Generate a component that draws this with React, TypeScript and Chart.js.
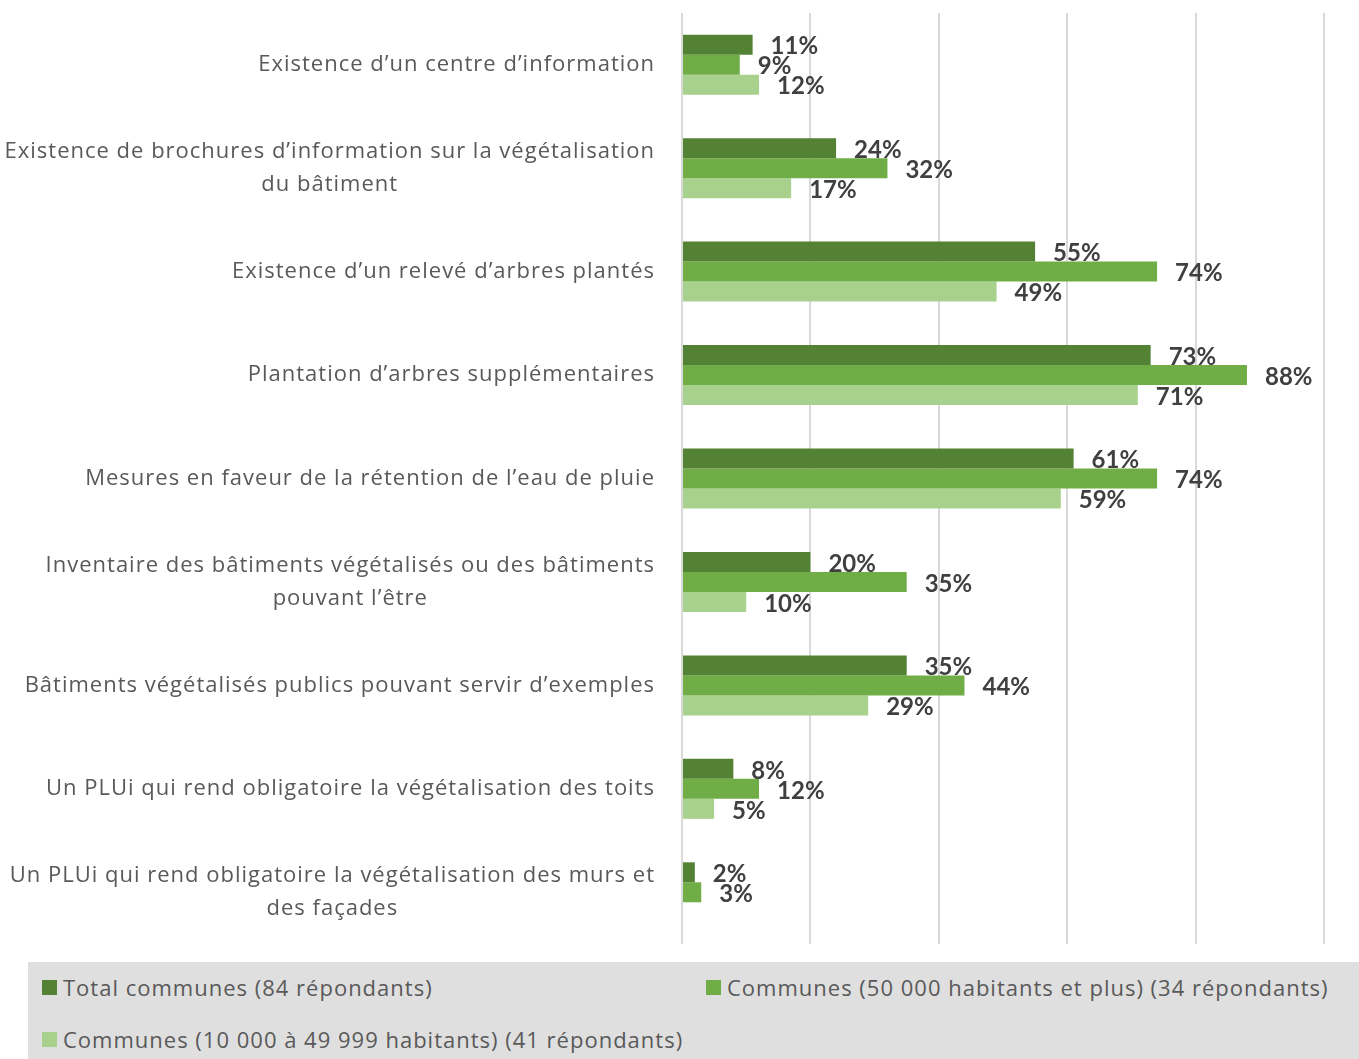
import React, { useEffect, useRef } from "react";
import { Chart, registerables } from "chart.js";

Chart.register(...registerables);

const categories: (string | string[])[] = [
  "Existence d’un centre d’information",
  ["Existence de brochures d’information sur la végétalisation", "du bâtiment"],
  "Existence d’un relevé d’arbres plantés",
  "Plantation d’arbres supplémentaires",
  "Mesures en faveur de la rétention de l’eau de pluie",
  ["Inventaire des bâtiments végétalisés ou des bâtiments", "pouvant l’être"],
  "Bâtiments végétalisés publics pouvant servir d’exemples",
  "Un PLUi qui rend obligatoire la végétalisation des toits",
  ["Un PLUi qui rend obligatoire la végétalisation des murs et", "des façades"],
];

const seriesNames = [
  "Total communes (84 répondants)",
  "Communes (50 000 habitants et plus) (34 répondants)",
  "Communes (10 000 à 49 999 habitants) (41 répondants)",
];

const totalValues = [11, 24, 55, 73, 61, 20, 35, 8, 2];
const bigCityValues = [9, 32, 74, 88, 74, 35, 44, 12, 3];
const midCityValues = [12, 17, 49, 71, 59, 10, 29, 5, null];

const seriesColors = ["#548235", "#70AD47", "#A9D18E"];

const FONT = "'Open Sans', sans-serif";
const LABEL_FONT = "Lato, 'Open Sans', sans-serif";

const labelPlugin = {
  id: "barValueLabels",
  afterDatasetsDraw(chart: any) {
    const ctx = chart.ctx;
    ctx.save();
    ctx.font = `bold 24px ${LABEL_FONT}`;
    ctx.fillStyle = "#404040";
    ctx.textAlign = "left";
    ctx.textBaseline = "middle";
    chart.data.datasets.forEach((ds: any, di: number) => {
      const meta = chart.getDatasetMeta(di);
      meta.data.forEach((bar: any, i: number) => {
        const v = ds.data[i];
        if (v === null || v === undefined) return;
        ctx.fillText(`${v}%`, bar.x + 18, bar.y + 2);
      });
    });
    ctx.restore();
  },
};

// Category labels: right-aligned block, lines centred within the block (as in Excel)
const categoryLabelPlugin = {
  id: "categoryLabels",
  afterDraw(chart: any) {
    const ctx = chart.ctx;
    const yScale = chart.scales.y;
    const rightEdge = chart.chartArea.left - 27;
    const lineH = 33;
    ctx.save();
    ctx.font = `22px ${FONT}`;
    try { (ctx as any).letterSpacing = "1px"; } catch (e) {}
    ctx.fillStyle = "#595959";
    ctx.textAlign = "center";
    ctx.textBaseline = "middle";
    (chart.data.labels as any[]).forEach((lab, i) => {
      const lines: string[] = Array.isArray(lab) ? lab : [lab];
      const widest = Math.max(...lines.map((l) => ctx.measureText(l).width));
      const cx = rightEdge - widest / 2;
      const cy = yScale.getPixelForTick(i);
      lines.forEach((l, k) => {
        ctx.fillText(l, cx, cy + (k - (lines.length - 1) / 2) * lineH);
      });
    });
    ctx.restore();
  },
};

export default function App() {
  const canvasRef = useRef<HTMLCanvasElement>(null);

  useEffect(() => {
    if (!canvasRef.current) return;
    const chart = new Chart(canvasRef.current, {
      type: "bar",
      data: {
        labels: categories,
        datasets: [
          { label: seriesNames[0], data: totalValues, backgroundColor: seriesColors[0] },
          { label: seriesNames[1], data: bigCityValues, backgroundColor: seriesColors[1] },
          { label: seriesNames[2], data: midCityValues as any, backgroundColor: seriesColors[2] },
        ],
      },
      options: {
        indexAxis: "y",
        animation: false,
        responsive: false,
        maintainAspectRatio: false,
        layout: { padding: { top: 13, right: 35, bottom: 0, left: 0 } },
        datasets: { bar: { barPercentage: 1, categoryPercentage: 0.58 } },
        plugins: {
          legend: { display: false },
          tooltip: { enabled: false },
        },
        scales: {
          x: {
            min: 0,
            max: 100,
            ticks: { display: false, stepSize: 20 },
            grid: { color: "#d9d9d9", lineWidth: 2, drawTicks: false },
            border: { display: false },
            afterFit: (s: any) => {
              s.height = 0;
              s.paddingLeft = 0;
              s.paddingRight = 0;
            },
          },
          y: {
            grid: { display: false, drawTicks: false },
            border: { display: false },
            ticks: { display: false },
            afterFit: (s: any) => {
              s.width = 682;
              s.paddingTop = 0;
              s.paddingBottom = 0;
            },
          },
        },
      },
      plugins: [labelPlugin, categoryLabelPlugin],
    });
    return () => chart.destroy();
  }, []);

  const sq = (c: string) => (
    <span style={{ display: "inline-block", width: 15, height: 15, background: c, marginRight: 6, verticalAlign: "middle" }} />
  );

  const legendText: React.CSSProperties = {
    position: "absolute",
    fontFamily: FONT,
    fontSize: 22,
    color: "#595959",
    whiteSpace: "nowrap",
    lineHeight: "26px",
    letterSpacing: "1px",
  };

  return (
    <div style={{ position: "fixed", left: 0, top: 0, width: 1359, height: 1059, background: "#fff", overflow: "hidden" }}>
      <canvas ref={canvasRef} width={1359} height={944} style={{ position: "absolute", left: 0, top: 0, width: 1359, height: 944 }} />
      <div style={{ position: "absolute", left: 28, top: 962, width: 1331, height: 97, background: "#dfdfdf" }}>
        <div style={{ ...legendText, left: 14, top: 9 }}>{sq(seriesColors[0])}<span style={{ verticalAlign: "middle" }}>{seriesNames[0]}</span></div>
        <div style={{ ...legendText, left: 678, top: 9 }}>{sq(seriesColors[1])}<span style={{ verticalAlign: "middle" }}>{seriesNames[1]}</span></div>
        <div style={{ ...legendText, left: 14, top: 61 }}>{sq(seriesColors[2])}<span style={{ verticalAlign: "middle" }}>{seriesNames[2]}</span></div>
      </div>
    </div>
  );
}
